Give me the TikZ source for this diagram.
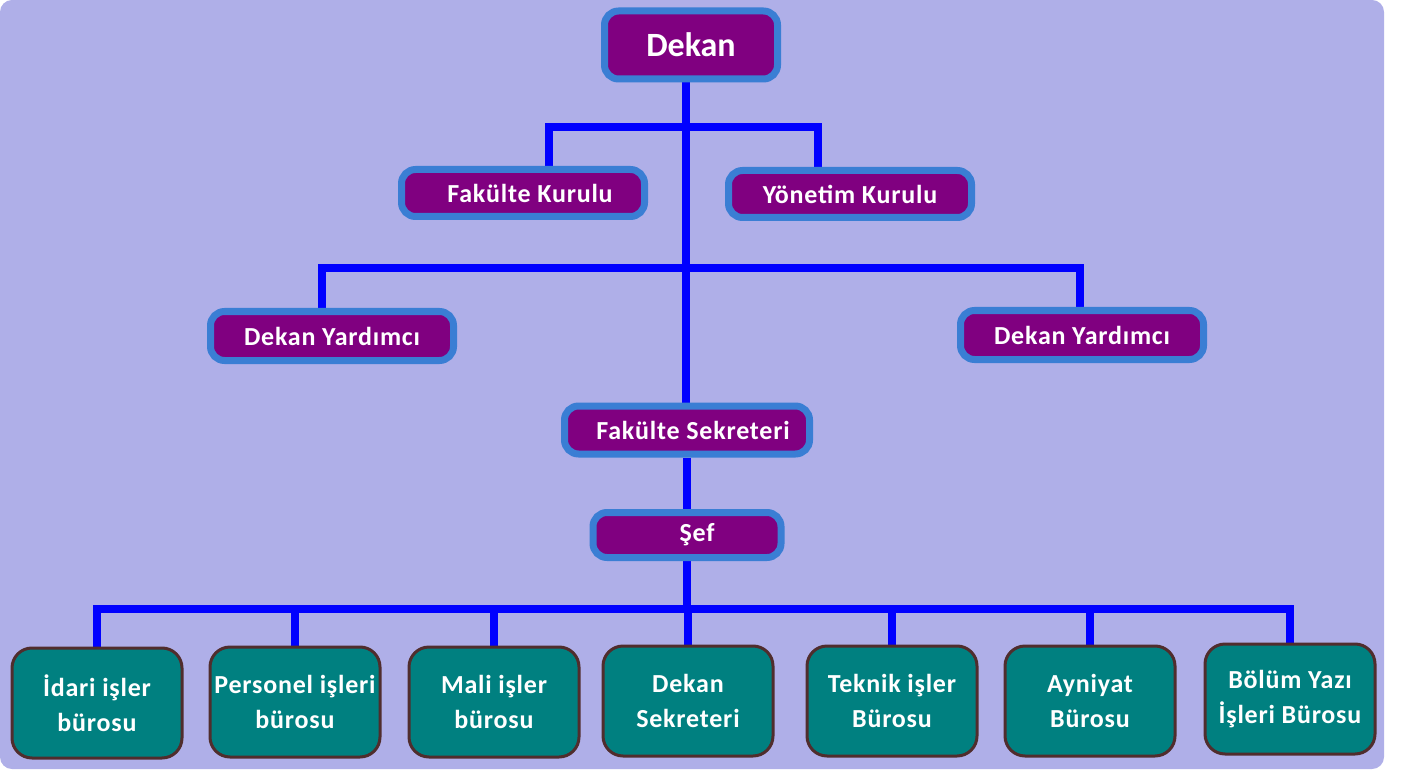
\documentclass[tikz,border=0pt]{standalone}
\usepackage{fontspec}
\setmainfont{Carlito}
\usetikzlibrary{backgrounds}
\usetikzlibrary{positioning}
\definecolor{bgpurple}{RGB}{175,175,232}
\definecolor{boxpurple}{RGB}{128,0,128}
\definecolor{rimblue}{RGB}{58,126,212}
\definecolor{linkblue}{RGB}{0,0,255}
\definecolor{boxteal}{RGB}{0,128,128}
\definecolor{rimbrown}{RGB}{80,45,45}
\newcommand{\labelfont}{\bfseries\fontsize{26}{35}\selectfont\addfontfeature{LetterSpace=3}}

\begin{document}
\begin{tikzpicture}[x=1pt,y=-1pt,
    head/.style={draw=rimblue, line width=7pt, fill=boxpurple, rounded corners=14pt,
        text=white, font=\labelfont,
        minimum width=243pt, minimum height=47pt, inner sep=0pt},
    office/.style={draw=rimbrown, line width=3pt, fill=boxteal, rounded corners=20pt,
        text=white, font=\labelfont, align=center,
        minimum width=170pt, minimum height=110pt, inner sep=0pt},
    link/.style={linkblue, line width=8pt}]
\useasboundingbox (0,0) rectangle (1404,775);

\node[head, minimum width=173pt, minimum height=68pt, font=\bfseries\fontsize{34}{38}\selectfont] (dekan) at (691,45) {Dekan};

\node[head] (fk) at (523,193) {\hspace{14pt}Fakülte Kurulu};
\node[head] (yk) at (850,194) {Yönetim Kurulu};

\node[head, minimum height=49pt] (dy1) at (332,336) {Dekan Yardımcı};
\node[head, minimum height=49pt] (dy2) at (1082,335) {Dekan Yardımcı};

\node[head, minimum width=245pt, minimum height=48pt] (sekreter) at (687,430) {\hspace{12pt}Fakülte Sekreteri};
\node[head, minimum width=188pt, minimum height=45pt] (sef) at (687,535) {\hspace{20pt}Şef};

\node[office] (b1) at (97,703) {İdari işler\\bürosu};
\node[office] (b2) at (295,702) {Personel işleri\\bürosu};
\node[office] (b3) at (494,702) {Mali işler\\bürosu};
\node[office] (b4) at (688,701) {Dekan\\Sekreteri};
\node[office] (b5) at (892,701) {Teknik işler\\Bürosu};
\node[office] (b6) at (1090,701) {Ayniyat\\Bürosu};
\node[office] (b7) at (1290,699) {Bölüm Yazı\\İşleri Bürosu};

\coordinate (kurulL) at (549,127);
\coordinate (kurulR) at (818,127);
\coordinate (yardL) at (322,268);
\coordinate (yardR) at (1080,268);
\coordinate (trunk) at (686,0);
\coordinate (buro) at (687,609);

\begin{scope}[on background layer]
\fill[bgpurple, rounded corners=12pt] (0,0) rectangle (1384,769);
\draw[link] (dekan.south -| trunk) -- (sekreter.north -| trunk);
\draw[link] (kurulL |- fk.north) -- (kurulL) -- (kurulR) -- (kurulR |- yk.north);
\draw[link] (yardL |- dy1.north) -- (yardL) -- (yardR) -- (yardR |- dy2.north);
\draw[link] (sekreter) -- (sef);
\draw[link] (sef) -- (buro);
\draw[link] (b1.north) |- (buro) -| (b7.north);
\foreach \b in {b2,b3,b4,b5,b6}
    \draw[link] (\b.north) -- (\b.north |- buro);
\end{scope}
\end{tikzpicture}
\end{document}
